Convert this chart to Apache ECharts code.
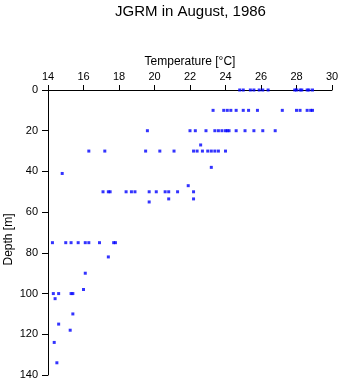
<!DOCTYPE html>
<html>
<head>
<meta charset="utf-8">
<script src="https://cdn.jsdelivr.net/npm/echarts@6/dist/echarts.min.js"></script>
<style>html,body{margin:0;padding:0;background:#fff}#c{width:341px;height:384px}</style>
</head>
<body>
<div id="c"></div>
<script>
const titleText = "JGRM in August, 1986";
const xAxisName = "Temperature [°C]";
const yAxisName = "Depth [m]";
const xTicks = [14, 16, 18, 20, 22, 24, 26, 28, 30];
const yTicks = [0, 20, 40, 60, 80, 100, 120, 140];

const temperature = [
  24.8, 25.0, 25.4, 25.6, 25.9, 26.1, 26.4, 27.9, 28.0, 28.2, 28.3, 28.6, 28.7, 28.9,
  23.3, 23.9, 24.1, 24.3, 24.6, 25.0, 25.3, 25.8, 27.2, 28.0, 28.2, 28.6, 28.8, 28.9,
  19.6, 22.0, 22.3, 22.9, 23.4, 23.6, 23.8, 24.0, 24.1, 24.2, 24.6, 25.1, 25.6, 26.1, 26.8,
  22.6,
  16.3, 17.2, 19.5, 20.3, 21.1, 22.2, 22.4, 22.7, 23.0, 23.2, 23.4, 23.6, 24.0,
  23.2,
  14.8,
  21.9,
  17.1, 17.4, 17.5, 18.4, 18.7, 18.9, 19.7, 20.1, 20.6, 20.8, 21.3, 22.2,
  20.8, 22.2,
  19.7,
  14.25, 15.0, 15.3, 15.7, 16.1, 16.3, 16.9, 17.7, 17.8,
  17.4,
  16.1,
  16.0,
  14.3, 14.6, 15.3, 15.4,
  14.4,
  15.4,
  14.6,
  15.25,
  14.35,
  14.5
];
const depth = [
  0, 0, 0, 0, 0, 0, 0, 0, 0, 0, 0, 0, 0, 0,
  10, 10, 10, 10, 10, 10, 10, 10, 10, 10, 10, 10, 10, 10,
  20, 20, 20, 20, 20, 20, 20, 20, 20, 20, 20, 20, 20, 20, 20,
  27,
  30, 30, 30, 30, 30, 30, 30, 30, 30, 30, 30, 30, 30,
  38,
  41,
  47,
  50, 50, 50, 50, 50, 50, 50, 50, 50, 50, 50, 50,
  53.5, 53.5,
  55,
  75, 75, 75, 75, 75, 75, 75, 75, 75,
  82,
  90,
  98,
  100, 100, 100, 100,
  102.5,
  110,
  115,
  118,
  124,
  134
];

const points = temperature.map((t, i) => [t, depth[i]]);

const chart = echarts.init(document.getElementById('c'), null, {renderer: 'canvas'});
const font = 'Liberation Sans, Arial, Helvetica, sans-serif';
chart.setOption({
  animation: false,
  backgroundColor: '#ffffff',
  title: {
    text: titleText,
    left: 110,
    top: -1,
    textStyle: {fontFamily: font, fontSize: 15, fontWeight: 'normal', color: '#000'}
  },
  grid: {left: 48, top: 90, right: 9, bottom: 9, containLabel: false, outerBoundsMode: 'none'},
  xAxis: {
    type: 'value',
    position: 'top',
    min: xTicks[0],
    max: xTicks[xTicks.length - 1],
    interval: 2,
    name: xAxisName,
    nameLocation: 'middle',
    nameGap: 22,
    nameMoveOverlap: false,
    nameTextStyle: {fontFamily: font, fontSize: 12, color: '#000'},
    axisLine: {show: true, lineStyle: {color: '#000', width: 1}},
    axisTick: {show: true, length: 5, lineStyle: {color: '#000'}},
    axisLabel: {fontFamily: font, fontSize: 11, color: '#000', margin: 8},
    splitLine: {show: false}
  },
  yAxis: {
    type: 'value',
    inverse: true,
    min: yTicks[0],
    max: yTicks[yTicks.length - 1],
    interval: 20,
    name: yAxisName,
    nameLocation: 'middle',
    nameGap: 33,
    nameMoveOverlap: false,
    nameTextStyle: {fontFamily: font, fontSize: 12, color: '#000', padding: [0, 14, 0, 0]},
    axisLine: {show: true, onZero: false, lineStyle: {color: '#000', width: 1}},
    axisTick: {show: true, length: 6, lineStyle: {color: '#000'}},
    axisLabel: {fontFamily: font, fontSize: 11, color: '#000', margin: 10},
    splitLine: {show: false}
  },
  series: [{
    type: 'scatter',
    data: points,
    symbol: 'rect',
    symbolSize: 3,
    itemStyle: {color: '#0000ff'}
  }]
});
</script>
</body>
</html>
